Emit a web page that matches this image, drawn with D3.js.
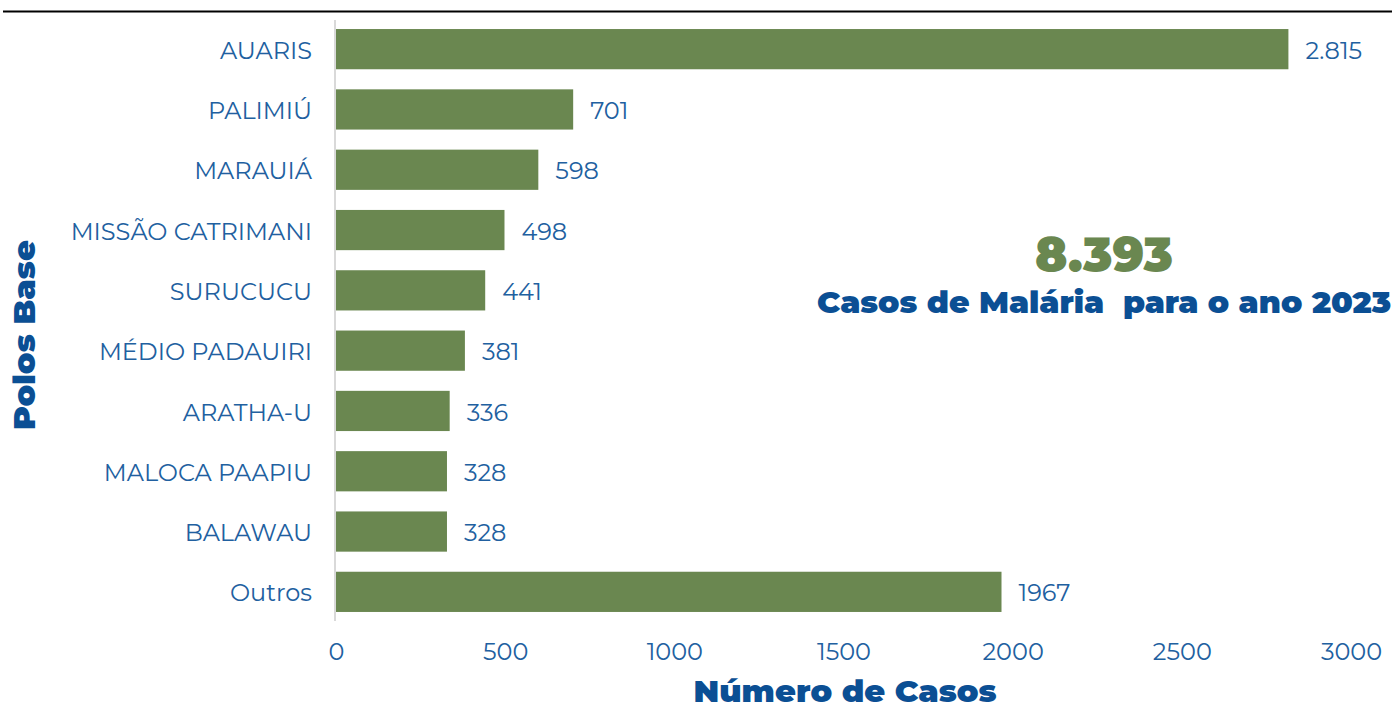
<!DOCTYPE html>
<html><head><meta charset="utf-8">
<script src="https://cdn.jsdelivr.net/npm/d3@7/dist/d3.min.js"></script>
<style>body{margin:0;background:#fff;} svg{display:block;}</style>
</head><body>
<svg id="c" width="1392" height="705"></svg>
<script>
const categories = ["AUARIS","PALIMIÚ","MARAUIÁ","MISSÃO CATRIMANI","SURUCUCU","MÉDIO PADAUIRI","ARATHA-U","MALOCA PAAPIU","BALAWAU","Outros"];
const values = [2815,701,598,498,441,381,336,328,328,1967];
const valueLabels = ["2.815","701","598","498","441","381","336","328","328","1967"];
const xTicks = [0,500,1000,1500,2000,2500,3000];
const totalText = "8.393";
const subtitleText = "Casos de Malária  para o ano 2023";
const xTitle = "Número de Casos";
const yTitle = "Polos Base";

const svg = d3.select("#c");
const green = "#6a8750", blue = "#2160a0", dark = "#0b4f94";
const font = "Montserrat, 'Noto Sans', 'Open Sans', sans-serif";

svg.append("line").attr("x1",3).attr("x2",1392).attr("y1",11.5).attr("y2",11.5).attr("stroke","#000").attr("stroke-width",2);

const x = d3.scaleLinear().domain([0,3000]).range([336,1351]);
const y = d3.scaleBand().domain(categories).range([19,622]).paddingInner(0.333).paddingOuter(0.1665);

svg.append("g").selectAll("rect").data(values).join("rect")
  .attr("x",x(0)).attr("y",(d,i)=>y(categories[i]))
  .attr("width",d=>x(d)-x(0)).attr("height",y.bandwidth()).attr("fill",green);

svg.append("line").attr("x1",335).attr("x2",335).attr("y1",20).attr("y2",621).attr("stroke","#d9d9d9").attr("stroke-width",2);

svg.append("g").selectAll("text").data(categories).join("text")
  .attr("x",312).attr("y",d=>y(d)+y.bandwidth()/2+1).attr("dy","0.36em")
  .attr("text-anchor","end").attr("fill",blue).attr("font-family",font).attr("font-size",24)
  .text(d=>d);

svg.append("g").selectAll("text").data(values).join("text")
  .attr("x",d=>x(d)+17).attr("y",(d,i)=>y(categories[i])+y.bandwidth()/2+1).attr("dy","0.36em")
  .attr("fill",blue).attr("font-family",font).attr("font-size",24)
  .text((d,i)=>valueLabels[i]);

const xAxis = d3.axisBottom(x).tickValues(xTicks).tickSize(0).tickPadding(0).tickFormat(d=>String(d));
const gx = svg.append("g").attr("transform","translate(0,643)").call(xAxis);
gx.select(".domain").remove();
gx.selectAll("text").attr("fill",blue).attr("font-family",font).attr("font-size",24).attr("dy","0.71em");

svg.append("text").attr("x",845).attr("y",702).attr("text-anchor","middle")
  .attr("fill",dark).attr("font-family",font).attr("font-weight",900).attr("font-size",31)
  .attr("textLength",303).attr("lengthAdjust","spacingAndGlyphs").text(xTitle);

svg.append("text").attr("transform","translate(35,335) rotate(-90)").attr("text-anchor","middle")
  .attr("fill",dark).attr("font-family",font).attr("font-weight",900).attr("font-size",31)
  .attr("textLength",190).attr("lengthAdjust","spacingAndGlyphs").text(yTitle);

svg.append("text").attr("x",1104).attr("y",272).attr("text-anchor","middle")
  .attr("fill",green).attr("font-family",font).attr("font-weight",900).attr("font-size",48)
  .attr("textLength",138).attr("lengthAdjust","spacingAndGlyphs").text(totalText);

svg.append("text").attr("x",1104).attr("y",313).attr("text-anchor","middle")
  .attr("fill",dark).attr("font-family",font).attr("font-weight",900).attr("font-size",31)
  .attr("textLength",574).attr("lengthAdjust","spacingAndGlyphs").attr("xml:space","preserve").text(subtitleText);
</script>
</body></html>
